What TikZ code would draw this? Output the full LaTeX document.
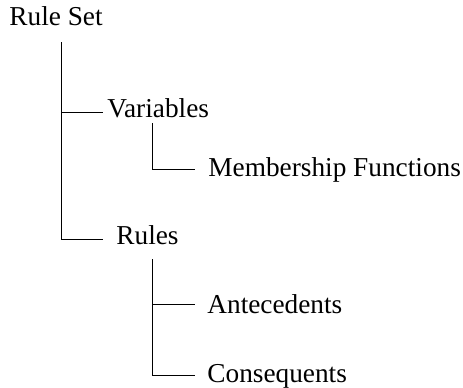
\documentclass[tikz,border=0pt]{standalone}
\usepackage{fontspec}
\setmainfont{Liberation Serif}

\begin{document}
\begin{tikzpicture}[x=1pt, y=-1pt, line width=0.8pt,
    font=\fontsize{27.3}{30}\selectfont,
    lbl/.style={anchor=base west, inner sep=0pt}]
      \useasboundingbox (0,0) rectangle (463,388);
      % labels
      \node [lbl] (rs) at (9,25) {Rule Set};
      \node [lbl] (var) at (107,117) {Variables};
      \node [lbl] (mf) at (208,176) {Membership Functions};
      \node [lbl] (rules) at (116,244) {Rules};
      \node [lbl] (ant) at (207,313) {Antecedents};
      \node [lbl] (con) at (207,382) {Consequents};
      % branch points
      \coordinate (rs stem) at (61,42);
      \coordinate (var tip) at (103,112);
      \coordinate (rules tip) at (103,239);
      \coordinate (var stem) at (152,123);
      \coordinate (mf tip) at (195,169);
      \coordinate (rules stem) at (152,259);
      \coordinate (ant tip) at (195,304);
      \coordinate (con tip) at (195,375);
      % tree lines
      \draw (rs stem) |- (rules tip);
      \draw (rs stem |- var tip) -- (var tip);
      \draw (var stem) |- (mf tip);
      \draw (rules stem) |- (con tip);
      \draw (rules stem |- ant tip) -- (ant tip);
    \end{tikzpicture}
\end{document}
